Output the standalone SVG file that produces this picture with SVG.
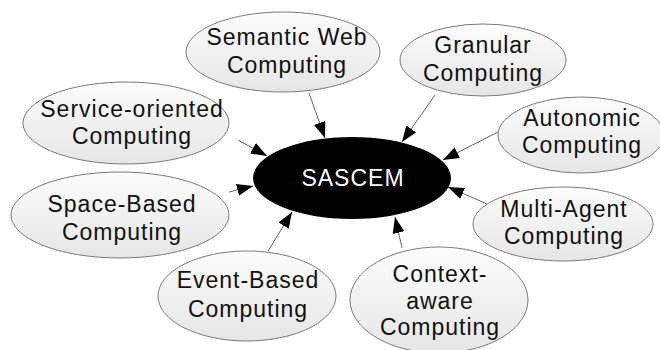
<svg xmlns="http://www.w3.org/2000/svg" width="660" height="350" viewBox="0 0 660 350">
<style>
.node ellipse{fill:url(#g);stroke:#7a7a7a;stroke-width:1}
.node text{font-family:"Liberation Sans",Arial,sans-serif;font-size:23px;letter-spacing:1px;fill:#111;text-anchor:middle}
.conn line{stroke:#666;stroke-width:1;marker-end:url(#ah)}
#sascem text{font-family:"Liberation Sans",Arial,sans-serif;font-size:23px;letter-spacing:1px;fill:#fff;text-anchor:middle}
</style>
<defs>
<linearGradient id="g" x1="0" y1="0" x2="0" y2="1">
<stop offset="0" stop-color="#fcfcfc"/>
<stop offset="1" stop-color="#e6e6e6"/>
</linearGradient>
<marker id="ah" markerUnits="userSpaceOnUse" markerWidth="18" markerHeight="12" refX="16" refY="6" orient="auto">
<path d="M0,0 L16,6 L0,12 z" fill="#000"/>
</marker>
</defs>
<rect width="660" height="350" fill="#fff"/>
<g class="conn">
<line x1="309" y1="93" x2="325" y2="138"/>
<line x1="435" y1="95" x2="402" y2="142"/>
<line x1="238" y1="140" x2="267" y2="156"/>
<line x1="229" y1="192" x2="253" y2="186"/>
<line x1="268" y1="251" x2="292" y2="212"/>
<line x1="402" y1="248" x2="395" y2="217"/>
<line x1="498" y1="132" x2="443" y2="160"/>
<line x1="487" y1="204" x2="448" y2="187"/>
</g>
<g id="sascem">
<ellipse cx="352" cy="178" rx="99" ry="41" fill="#000"/>
<text x="353" y="186">SASCEM</text>
</g>
<g id="semantic" class="node">
<ellipse cx="283" cy="52" rx="97" ry="40"/>
<text x="287" y="45">Semantic Web</text>
<text x="287" y="73">Computing</text>
</g>
<g id="granular" class="node">
<ellipse cx="483" cy="60" rx="83" ry="36"/>
<text x="483" y="53">Granular</text>
<text x="483" y="81">Computing</text>
</g>
<g id="service" class="node">
<ellipse cx="126" cy="123" rx="103" ry="41"/>
<text x="132" y="117">Service-oriented</text>
<text x="132" y="144">Computing</text>
</g>
<g id="autonomic" class="node">
<ellipse cx="581" cy="135" rx="83" ry="38"/>
<text x="582" y="126">Autonomic</text>
<text x="582" y="153">Computing</text>
</g>
<g id="space" class="node">
<ellipse cx="120" cy="215" rx="109" ry="43"/>
<text x="122" y="212">Space-Based</text>
<text x="122" y="240">Computing</text>
</g>
<g id="multiagent" class="node">
<ellipse cx="563" cy="224" rx="90" ry="37"/>
<text x="564" y="217">Multi-Agent</text>
<text x="564" y="244">Computing</text>
</g>
<g id="event" class="node">
<ellipse cx="247" cy="296" rx="89" ry="45"/>
<text x="248" y="288">Event-Based</text>
<text x="248" y="317">Computing</text>
</g>
<g id="context" class="node">
<ellipse cx="439" cy="300" rx="89" ry="53"/>
<text x="440" y="282">Context-</text>
<text x="440" y="309">aware</text>
<text x="440" y="335">Computing</text>
</g>
</svg>
